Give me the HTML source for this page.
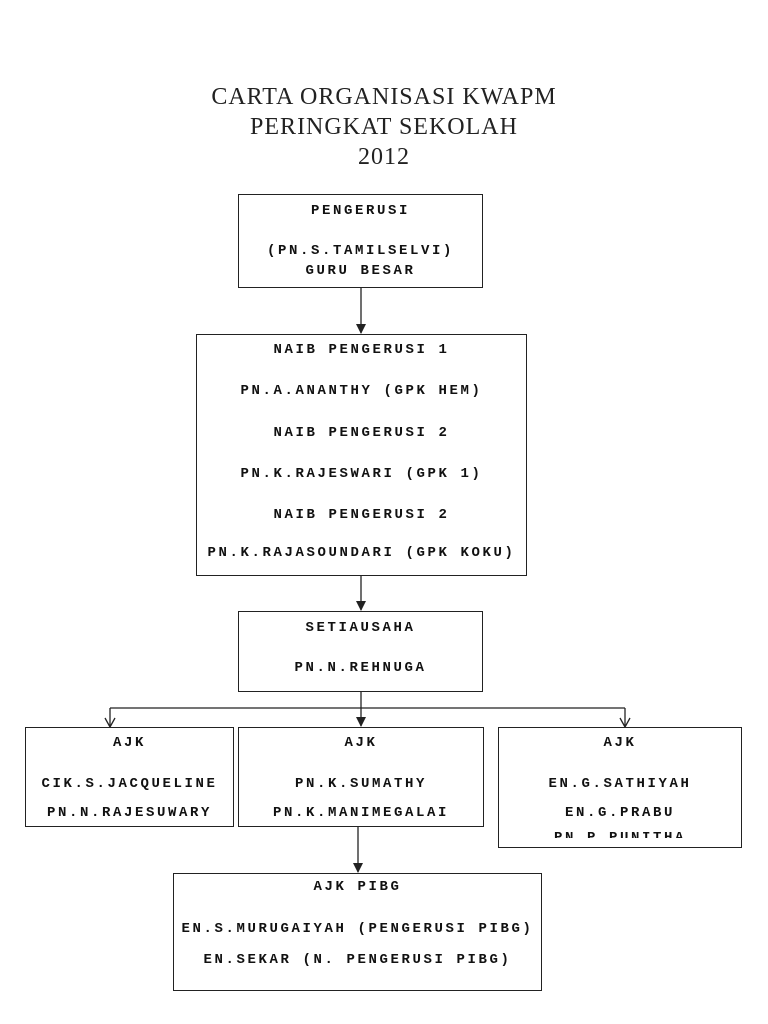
<!DOCTYPE html>
<html><head><meta charset="utf-8"><style>
body{margin:0;background:#fff;width:768px;height:1024px;position:relative;overflow:hidden;font-family:"Liberation Mono",monospace;}
.t{position:absolute;left:0;width:768px;text-align:center;font-family:"Liberation Serif",serif;font-size:24px;color:#222;letter-spacing:1px;}
.b{position:absolute;border:1.5px solid #222;box-sizing:border-box;background:#fff;overflow:hidden;}
.l{position:absolute;left:0;right:0;text-align:center;font-weight:bold;font-size:14px;letter-spacing:2.6px;line-height:16px;white-space:nowrap;color:#111;}
svg{position:absolute;left:0;top:0}
</style></head><body>
<div class="t" style="top:84px">CARTA ORGANISASI KWAPM</div>
<div class="t" style="top:114px">PERINGKAT SEKOLAH</div>
<div class="t" style="top:144px">2012</div>
<svg width="768" height="1024">
<g stroke="#222" stroke-width="1.3" fill="none">
<line x1="361" y1="287" x2="361" y2="333"/>
<line x1="361" y1="575" x2="361" y2="610"/>
<line x1="361" y1="691" x2="361" y2="726"/>
<line x1="110" y1="708" x2="625" y2="708"/>
<line x1="110" y1="708" x2="110" y2="726"/>
<line x1="625" y1="708" x2="625" y2="726"/>
<line x1="358" y1="826" x2="358" y2="872"/>
<polyline points="105,718 110,727 115,718"/>
<polyline points="620,718 625,727 630,718"/>
</g>
<g fill="#222">
<polygon points="356,324 366,324 361,334"/>
<polygon points="356,601 366,601 361,611"/>
<polygon points="356,717 366,717 361,727"/>
<polygon points="353,863 363,863 358,873"/>
</g>
</svg>
<div class="b" style="left:238px;top:194px;width:245px;height:94px">
<div class="l" style="top:8px">PENGERUSI</div>
<div class="l" style="top:48px">(PN.S.TAMILSELVI)</div>
<div class="l" style="top:68px">GURU BESAR</div></div>
<div class="b" style="left:196px;top:334px;width:331px;height:242px">
<div class="l" style="top:7px">NAIB PENGERUSI 1</div>
<div class="l" style="top:48px">PN.A.ANANTHY (GPK HEM)</div>
<div class="l" style="top:90px">NAIB PENGERUSI 2</div>
<div class="l" style="top:131px">PN.K.RAJESWARI (GPK 1)</div>
<div class="l" style="top:172px">NAIB PENGERUSI 2</div>
<div class="l" style="top:210px">PN.K.RAJASOUNDARI (GPK KOKU)</div></div>
<div class="b" style="left:238px;top:611px;width:245px;height:81px">
<div class="l" style="top:8px">SETIAUSAHA</div>
<div class="l" style="top:48px">PN.N.REHNUGA</div></div>
<div class="b" style="left:25px;top:727px;width:209px;height:100px">
<div class="l" style="top:7px">AJK</div>
<div class="l" style="top:48px">CIK.S.JACQUELINE</div>
<div class="l" style="top:77px">PN.N.RAJESUWARY</div></div>
<div class="b" style="left:238px;top:727px;width:246px;height:100px">
<div class="l" style="top:7px">AJK</div>
<div class="l" style="top:48px">PN.K.SUMATHY</div>
<div class="l" style="top:77px">PN.K.MANIMEGALAI</div></div>
<div class="b" style="left:498px;top:727px;width:244px;height:121px">
<div class="l" style="top:7px">AJK</div>
<div class="l" style="top:48px">EN.G.SATHIYAH</div>
<div class="l" style="top:77px">EN.G.PRABU</div>
<div style="position:absolute;left:0;right:0;top:0;height:110px;overflow:hidden"><div class="l" style="top:102px">PN.P.PUNITHA</div></div></div>
<div class="b" style="left:173px;top:873px;width:369px;height:118px">
<div class="l" style="top:5px">AJK PIBG</div>
<div class="l" style="top:47px">EN.S.MURUGAIYAH (PENGERUSI PIBG)</div>
<div class="l" style="top:78px">EN.SEKAR (N. PENGERUSI PIBG)</div></div>
</body></html>
